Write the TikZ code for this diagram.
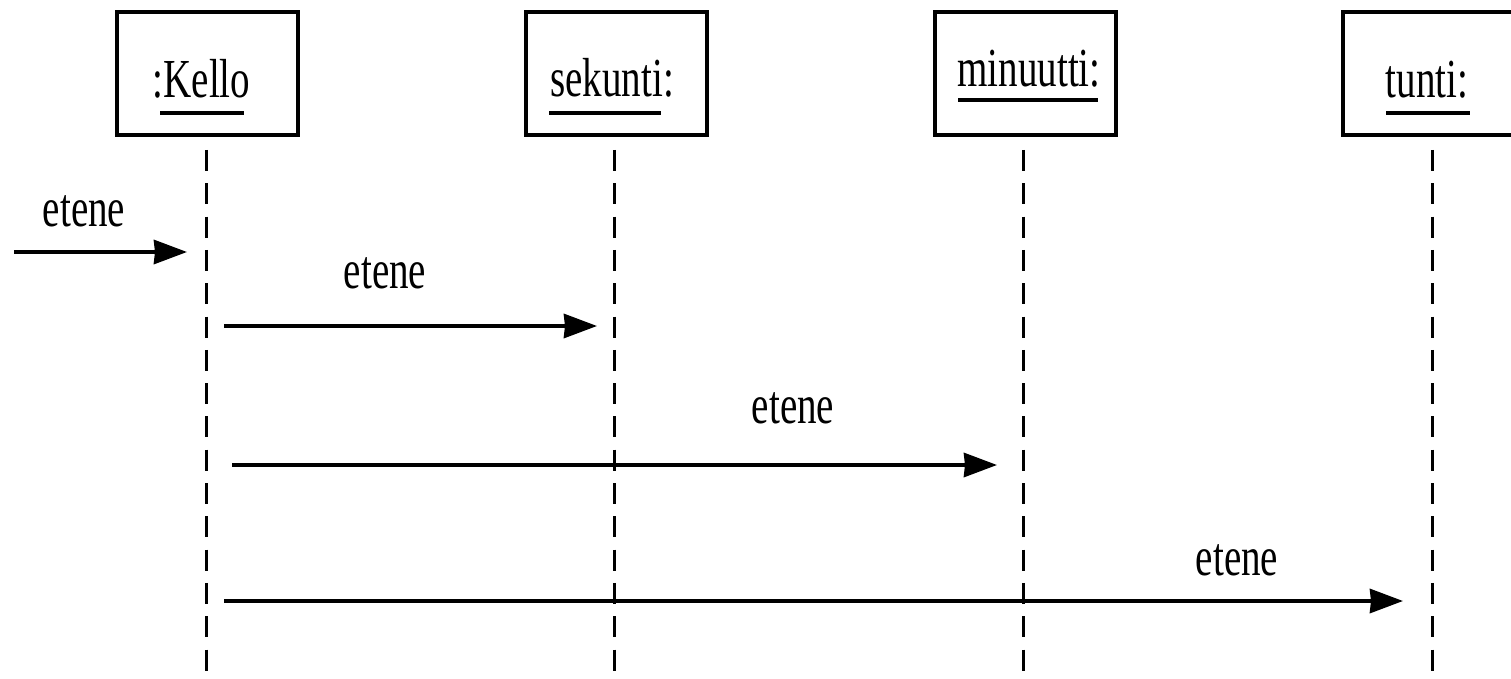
\documentclass[tikz,border=0pt]{standalone}
\usepackage{fontspec}
\setmainfont[FakeStretch=0.71]{Liberation Serif}
\usetikzlibrary{arrows.meta}
\begin{document}
\begin{tikzpicture}[x=1pt,y=-1pt,
 objbox/.style={draw,line width=4pt,minimum width=181pt,minimum height=123pt,inner sep=0pt},
 lbl/.style={font=\fontsize{55}{60}\selectfont,inner sep=0pt,anchor=base},
 lifeline/.style={line width=3pt,dash pattern=on 21pt off 12.3pt},
 msg/.style={line width=4pt,-{Stealth[length=33pt,width=24pt,inset=1pt]}},
 uline/.style={line width=4pt}]
\useasboundingbox (0,0) rectangle (1511,679);
\clip (0,0) rectangle (1511,679);
% object boxes
\node[objbox] (kello) at (207,73.5) {};
\node[objbox] (sekunti) at (616.5,73.5) {};
\node[objbox] (minuutti) at (1025,73.5) {};
\node[objbox] (tunti) at (1433,73.5) {};
% object names
\node[lbl] (kellot) at (201.5,98) {:Kello};
\node[lbl] (sekuntit) at (612,97) {sekunti:};
\node[lbl] (minuuttit) at (1029,87) {minuutti:};
\node[lbl] (tuntit) at (1427,98) {tunti:};
\draw[uline] (160,113) -- (244,113);
\draw[uline] (549,113) -- (661,113);
\draw[uline] (958,100) -- (1098,100);
\draw[uline] (1386,113) -- (1470,113);
% lifelines
\coordinate (k0) at (206,150); \coordinate (k1) at (206,690);
\coordinate (s0) at (614.5,150); \coordinate (s1) at (614.5,690);
\coordinate (m0) at (1023,150); \coordinate (m1) at (1023,690);
\coordinate (t0) at (1432,150); \coordinate (t1) at (1432,690);
\draw[lifeline] (k0) -- (k1);
\draw[lifeline] (s0) -- (s1);
\draw[lifeline] (m0) -- (m1);
\draw[lifeline] (t0) -- (t1);
% messages
\coordinate (a0) at (14,252); \coordinate (a1) at (187,252);
\coordinate (b0) at (224,326); \coordinate (b1) at (597,326);
\coordinate (c0) at (232,465); \coordinate (c1) at (997,465);
\coordinate (d0) at (224,601); \coordinate (d1) at (1403,601);
\draw[msg] (a0) -- (a1);
\draw[msg] (b0) -- (b1);
\draw[msg] (c0) -- (c1);
\draw[msg] (d0) -- (d1);
\node[lbl] (la) at (84,226) {etene};
\node[lbl] (lb) at (385,288) {etene};
\node[lbl] (lc) at (793,423) {etene};
\node[lbl] (ld) at (1237,575) {etene};
\end{tikzpicture}
\end{document}
